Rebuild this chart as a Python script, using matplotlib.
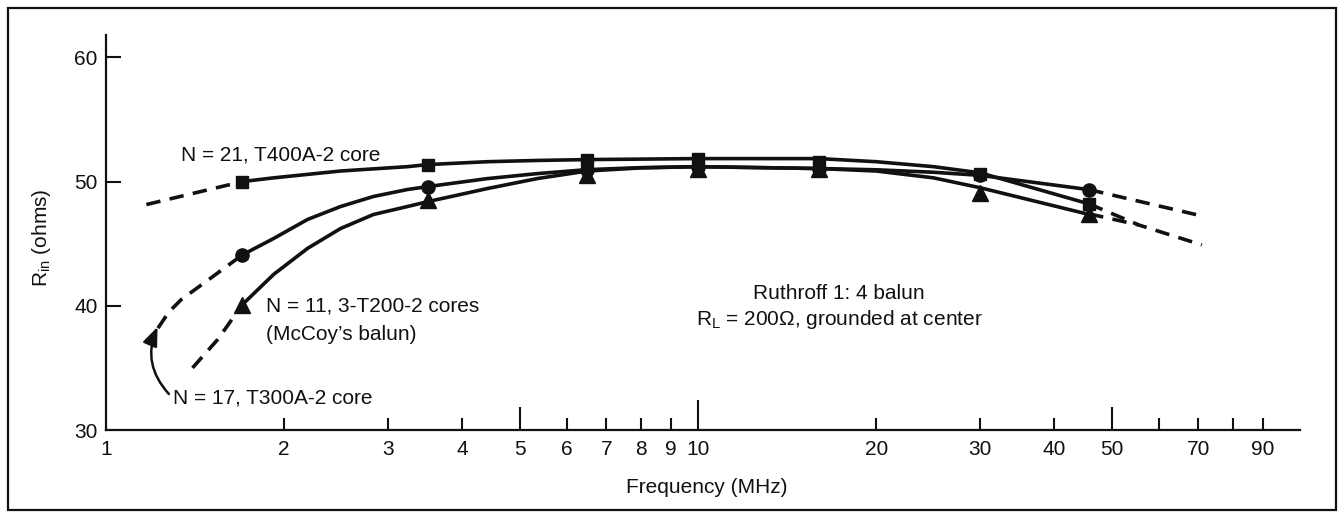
import numpy as np
import matplotlib
matplotlib.use("Agg")
import matplotlib.pyplot as plt
from matplotlib.patches import Rectangle

plt.rcParams['font.family'] = ['Liberation Sans', 'DejaVu Sans']
plt.rcParams['mathtext.fontset'] = 'custom'
plt.rcParams['mathtext.rm'] = 'Liberation Sans'
plt.rcParams['mathtext.it'] = 'Liberation Sans:italic'

# measured points (MHz, ohms)
freq_pts = [1.7, 3.5, 6.5, 10, 16, 30, 45.8]
r_sq = [50.0, 51.37, 51.77, 51.8, 51.6, 50.6, 48.2]   # N=21, T400A-2
r_ci = [44.1, 49.6, 50.96, 51.2, 51.05, 50.5, 49.35]  # circles
r_tr = [40.1, 48.5, 50.5, 51.0, 51.0, 49.1, 47.4]     # triangles

# curve traces
sq_curve_f = [1.7, 1.92, 2.49, 3.23, 3.5, 4.41, 5.35, 6.5, 10, 16, 20, 25, 30, 45.8]
sq_curve_r = [50.0, 50.3, 50.85, 51.2, 51.37, 51.6, 51.7, 51.77, 51.85, 51.85, 51.6, 51.2, 50.7, 48.2]
ci_curve_f = [1.7, 1.92, 2.19, 2.49, 2.83, 3.23, 3.5, 4.41, 5.35, 6.5, 8, 10, 16, 20, 25, 30, 45.8]
ci_curve_r = [44.1, 45.42, 46.95, 47.99, 48.8, 49.36, 49.6, 50.24, 50.64, 50.96, 51.12, 51.2,
              51.05, 50.95, 50.75, 50.5, 49.35]
tr_curve_f = [1.7, 1.92, 2.19, 2.49, 2.83, 3.23, 3.5, 4.41, 5.35, 6.5, 8, 10, 16, 20, 25, 30, 45.8]
tr_curve_r = [40.1, 42.53, 44.62, 46.22, 47.35, 47.99, 48.39, 49.44, 50.24, 50.85, 51.1, 51.2,
              51.05, 50.85, 50.3, 49.5, 47.35]

# dashed extrapolations
sq_dash_l_f = [1.17, 1.7]
sq_dash_l_r = [48.15, 50.0]
ci_dash_l_f = [1.224, 1.277, 1.34, 1.50, 1.7]
ci_dash_l_r = [38.2, 39.5, 40.5, 42.2, 44.1]
tr_dash_l_f = [1.40, 1.545, 1.7]
tr_dash_l_r = [35.0, 37.3, 40.1]
ci_dash_r_f = [45.8, 70]
ci_dash_r_r = [49.35, 47.3]
sq_dash_r_f = [45.8, 55.6, 71]
sq_dash_r_r = [48.2, 46.5, 44.9]
tr_dash_r_f = [45.8, 55.6]
tr_dash_r_r = [47.4, 46.5]

xticks = [1, 2, 3, 4, 5, 6, 7, 8, 9, 10, 20, 30, 40, 50, 60, 70, 80, 90]
xlabels = ['1', '2', '3', '4', '5', '6', '7', '8', '9', '10', '20', '30', '40', '50', '', '70', '', '90']
yticks = [30, 40, 50, 60]

ink = '#111111'
lw = 2.6

fig = plt.figure(figsize=(13.42, 5.2), dpi=100)
ax = fig.add_axes([106/1342, 1 - 430/520, 1194/1342, 395/520])
ax.set_xscale('log')
ax.set_xlim(1, 104)
ax.set_ylim(30, 61.8)

# solid curves
for f, r in [(sq_curve_f, sq_curve_r), (ci_curve_f, ci_curve_r), (tr_curve_f, tr_curve_r)]:
    ax.plot(f, r, color=ink, lw=lw, solid_capstyle='round', solid_joinstyle='round')

# dashed parts
for f, r in [(sq_dash_l_f, sq_dash_l_r), (ci_dash_l_f, ci_dash_l_r), (tr_dash_l_f, tr_dash_l_r),
             (ci_dash_r_f, ci_dash_r_r), (sq_dash_r_f, sq_dash_r_r), (tr_dash_r_f, tr_dash_r_r)]:
    ax.plot(f, r, color=ink, lw=lw, dashes=(4, 2.6))

ax.plot(freq_pts, r_ci, 'o', color=ink, ms=9.5, zorder=3)
ax.plot(freq_pts, r_tr, '^', color=ink, ms=11, zorder=3)
ax.plot(freq_pts, r_sq, 's', color=ink, ms=9, zorder=4)

# axes styling
for s in ['top', 'right']:
    ax.spines[s].set_visible(False)
for s in ['left', 'bottom']:
    ax.spines[s].set_linewidth(1.6)
    ax.spines[s].set_color(ink)

ax.set_xticks(xticks, xlabels)
ax.xaxis.set_minor_locator(matplotlib.ticker.NullLocator())
ax.set_yticks(yticks)
ax.tick_params(axis='both', direction='in', width=1.5, color=ink, labelsize=15, labelcolor=ink)
ax.tick_params(axis='x', pad=7)
ax.tick_params(axis='y', pad=6, length=11)

for t, v in zip(ax.xaxis.get_major_ticks(), xticks):
    if v == 1:
        t.tick1line.set_markersize(0)
    elif v == 10:
        t.tick1line.set_markersize(21.5)
    elif v in (5, 50):
        t.tick1line.set_markersize(16.5)
    else:
        t.tick1line.set_markersize(8.6)
ax.yaxis.get_major_ticks()[0].tick1line.set_markersize(0)

ax.set_xlabel('Frequency (MHz)', fontsize=15, color=ink)
ax.xaxis.set_label_coords(0.503, -0.122)
ax.set_ylabel(r'R$_\mathrm{in}$ (ohms)', fontsize=15, color=ink)
ax.yaxis.set_label_coords(-0.044, 0.486)

# labels on the curves
ax.text(1.34, 52.17, 'N = 21, T400A-2 core', fontsize=15, color=ink, ha='left', va='center')
ax.text(1.86, 40.0, 'N = 11, 3-T200-2 cores', fontsize=15, color=ink, ha='left', va='center')
ax.text(1.86, 37.7, '(McCoy\u2019s balun)', fontsize=15, color=ink, ha='left', va='center')
ax.text(1.297, 32.57, 'N = 17, T300A-2 core', fontsize=15, color=ink, ha='left', va='center')
ax.text(17.3, 41.0, 'Ruthroff 1: 4 balun', fontsize=15, color=ink, ha='center', va='center')
ax.text(17.3, 38.9, r'R$_\mathrm{L}$ = 200Ω, grounded at center', fontsize=15, color=ink,
        ha='center', va='center')

ax.annotate('', xy=(1.222, 38.3), xytext=(1.277, 32.9),
            arrowprops=dict(arrowstyle='-|>,head_length=0.75,head_width=0.3', color=ink, lw=1.8,
                            connectionstyle='arc3,rad=-0.32', mutation_scale=15,
                            shrinkA=0, shrinkB=0))

# outer frame
fig.add_artist(Rectangle((8/1342, 10/520), 1328/1342, 502/520, transform=fig.transFigure,
                         fill=False, lw=1.6, edgecolor=ink))

plt.savefig('out.png', dpi=100)
